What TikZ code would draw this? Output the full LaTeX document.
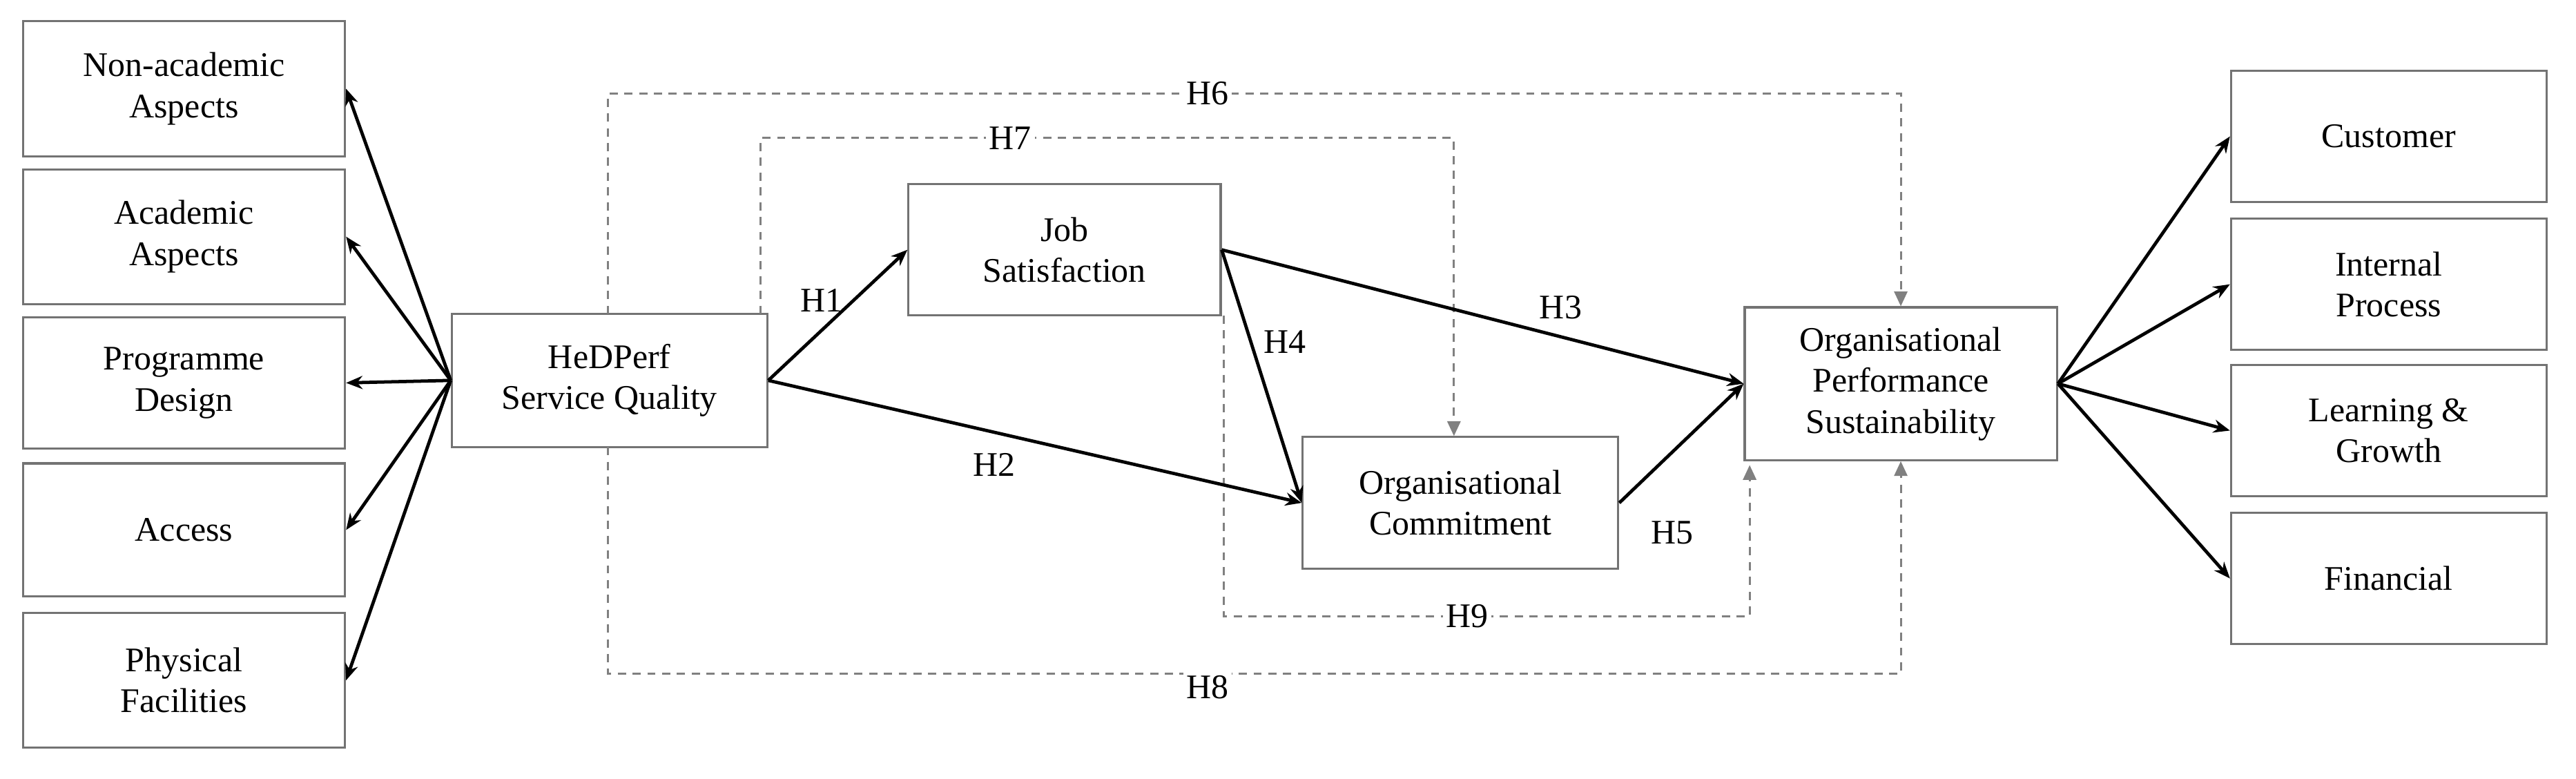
\documentclass[tikz,border=0pt]{standalone}
\usepackage{fontspec}
\setmainfont{Liberation Serif}
\usetikzlibrary{arrows.meta}
\begin{document}
\begin{tikzpicture}[x=1pt,y=-1pt,
  bx/.style={draw=black!55,line width=1.3pt,fill=white,align=center,font=\fontsize{21}{25}\selectfont},
  ar/.style={-{Stealth[length=10pt,width=8pt]},line width=2pt},
  da/.style={draw=black!50,dashed,dash pattern=on 5pt off 4pt,line width=1.3pt},
  dar/.style={da,-{Triangle[length=9pt,width=8pt,fill=black!50]}},
  lb/.style={font=\fontsize{21}{25}\selectfont,fill=white,inner sep=2pt},
  lt/.style={font=\fontsize{21}{25}\selectfont,inner sep=1pt}]
\useasboundingbox (0,0) rectangle (1568,474);
\def\bxat#1#2#3#4#5#6{\node[bx,minimum width=#4-#2,minimum height=#5-#3] (#1) at ({(#2+#4)/2},{(#3+#5)/2}) {#6};}
\bxat{na}{14}{13}{210}{95}{Non-academic\\Aspects}
\bxat{aa}{14}{103}{210}{185}{Academic\\Aspects}
\bxat{pd}{14}{193}{210}{273}{Programme\\Design}
\bxat{ac}{14}{282}{210}{363}{Access}
\bxat{pf}{14}{373}{210}{455}{Physical\\Facilities}
\bxat{cu}{1358}{43}{1550}{123}{Customer}
\bxat{ip}{1358}{133}{1550}{213}{Internal\\Process}
\bxat{lg}{1358}{222}{1550}{302}{Learning \&\\Growth}
\bxat{fi}{1358}{312}{1550}{392}{Financial}
% dashed paths
\coordinate (h6a) at (370,191); \coordinate (h6b) at (370,57); \coordinate (h6c) at (1157,57);
\coordinate (h8a) at (370,272); \coordinate (h8b) at (370,410); \coordinate (h8c) at (1157,410);
\coordinate (h7a) at (463,191); \coordinate (h7b) at (463,84); \coordinate (h7c) at (885,84);
\coordinate (h9a) at (745,192); \coordinate (h9b) at (745,375); \coordinate (h9c) at (1065,375);
\bxat{hs}{275}{191}{467}{272}{HeDPerf\\Service Quality}
\bxat{js}{553}{112}{743}{192}{Job\\Satisfaction}
\bxat{oc}{793}{266}{985}{346}{Organisational\\Commitment}
\bxat{op}{1062}{187}{1252}{280}{Organisational\\Performance\\Sustainability}
\draw[dar] (h6a) -- (h6b) -- (h6c) -- (h6c |- op.north);
\draw[dar] (h8a) -- (h8b) -- (h8c) -- (h8c |- op.south);
\draw[dar] (h7a) -- (h7b) -- (h7c) -- (h7c |- oc.north);
\draw[dar] (h9a) -- (h9b) -- (h9c) -- (1065,283);
\node[lb] at (735,57) {H6};
\node[lb] at (615,84) {H7};
\node[lb] at (735,418) {H8};
\node[lb] at (893,375) {H9};
\foreach \t in {na,aa,pd,ac,pf} \draw[ar] (hs.west) -- (\t.east);
\foreach \t in {cu,ip,lg,fi} \draw[ar] (op.east) -- (\t.west);
\draw[ar] (hs.east) -- (js.west);
\draw[ar] (hs.east) -- (oc.west);
\draw[ar] (js.east) -- (op.west);
\draw[ar] (js.east) -- (oc.west);
\draw[ar] (oc.east) -- (op.west);
\node[lt] at (500,183) {H1};
\node[lt] at (605,283) {H2};
\node[lt] at (950,187) {H3};
\node[lt] at (782,208) {H4};
\node[lt] at (1018,324) {H5};
\end{tikzpicture}
\end{document}
